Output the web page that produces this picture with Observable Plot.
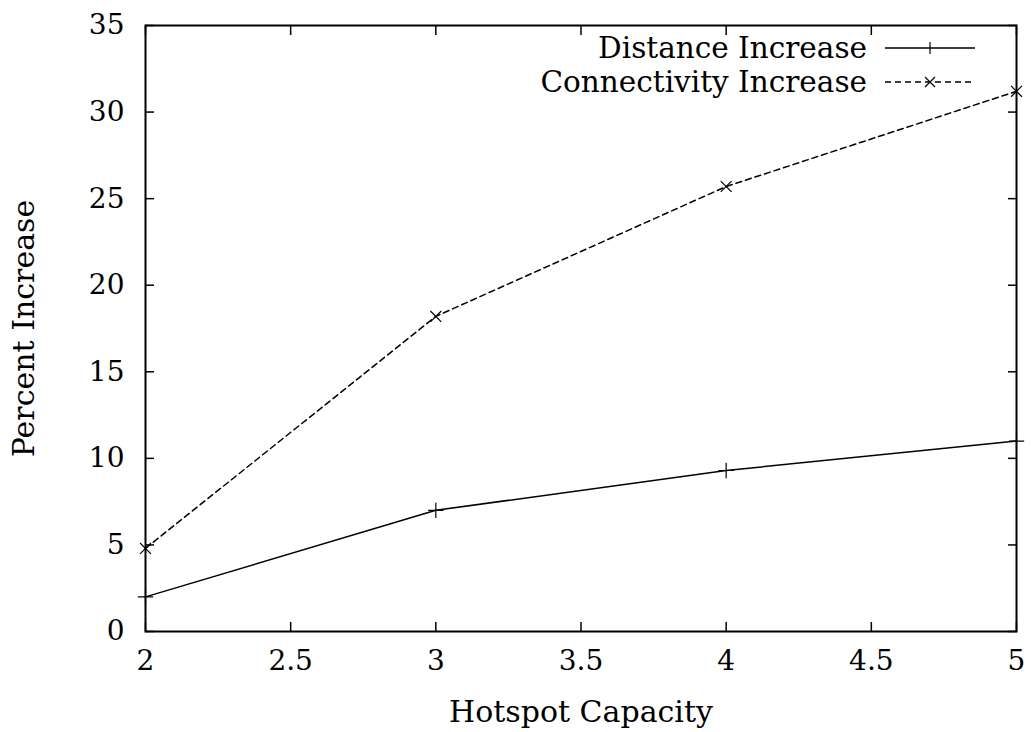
<!DOCTYPE html>
<html>
<head>
<meta charset="utf-8">
<script src="https://cdn.jsdelivr.net/npm/d3@7"></script>
<script src="https://cdn.jsdelivr.net/npm/@observablehq/plot@0.6"></script>
<style>
  html, body { margin: 0; padding: 0; background: #fff; }
  #wrap { position: relative; width: 1034px; height: 732px; font-family: "DejaVu Serif", "Liberation Serif", "Times New Roman", serif; }
  #legend { position: absolute; right: 59px; top: 31px; font-size: 29.5px; color: #000; }
  .row { display: flex; align-items: center; justify-content: flex-end; height: 34px; }
  .row span { margin-right: 18px; }
</style>
</head>
<body>
<div id="wrap"></div>
<script>
const capacity = [2, 3, 4, 5];
const distanceIncrease = [2.0, 7.0, 9.3, 11.0];
const connectivityIncrease = [4.8, 18.2, 25.7, 31.2];
const xTicks = [2, 2.5, 3, 3.5, 4, 4.5, 5];
const yTicks = [0, 5, 10, 15, 20, 25, 30, 35];
const seriesNames = ["Distance Increase", "Connectivity Increase"];

const distData = capacity.map((c, i) => ({x: c, y: distanceIncrease[i]}));
const connData = capacity.map((c, i) => ({x: c, y: connectivityIncrease[i]}));

const fontSize = 28;
const serif = '"DejaVu Serif", "Liberation Serif", "Times New Roman", serif';
const T = 9; // tick length
const noText = () => "";
const chart = Plot.plot({
  width: 1034,
  height: 732,
  marginLeft: 145,
  marginRight: 18,
  marginTop: 25,
  marginBottom: 101,
  style: {fontFamily: serif, fontSize: fontSize + "px", color: "#000", background: "#fff"},
  x: {domain: [2, 5]},
  y: {domain: [0, 35]},
  marks: [
    // tick labels
    Plot.axisX({ticks: xTicks, tickSize: 0, tickPadding: 19, fontSize, fontFamily: serif, label: null, tickFormat: d => String(d)}),
    Plot.axisY({ticks: yTicks, tickSize: 0, tickPadding: 21, fontSize, fontFamily: serif, label: null, tickFormat: d => String(d)}),
    // axis titles
    Plot.axisX({ticks: [], tickSize: 0, fontSize: 30, fontFamily: serif, label: "Hotspot Capacity", labelAnchor: "center", labelArrow: "none", labelOffset: 90}),
    Plot.axisY({ticks: [], tickSize: 0, fontSize: 30, fontFamily: serif, label: "Percent Increase", labelAnchor: "center", labelArrow: "none", labelOffset: 133}),
    // inward ticks on all four sides
    Plot.axisX({ticks: xTicks, tickSize: T, dy: -T, tickFormat: noText, strokeWidth: 1.5, label: null}),
    Plot.axisX({anchor: "top", ticks: xTicks, tickSize: T, dy: T, tickFormat: noText, strokeWidth: 1.5, label: null}),
    Plot.axisY({ticks: yTicks, tickSize: T, dx: T, tickFormat: noText, strokeWidth: 1.5, label: null}),
    Plot.axisY({anchor: "right", ticks: yTicks, tickSize: T, dx: -T, tickFormat: noText, strokeWidth: 1.5, label: null}),
    Plot.line(distData, {x: "x", y: "y", stroke: "#000", strokeWidth: 1.5}),
    Plot.dot(distData, {x: "x", y: "y", symbol: "plus", r: 5, stroke: "#000", strokeWidth: 1.2}),
    Plot.line(connData, {x: "x", y: "y", stroke: "#000", strokeWidth: 1.5, strokeDasharray: "6,4"}),
    Plot.dot(connData, {x: "x", y: "y", symbol: "times", r: 5, stroke: "#000", strokeWidth: 1.2}),
    Plot.frame({stroke: "#000", strokeWidth: 2})
  ]
});

const wrap = document.getElementById("wrap");
wrap.appendChild(chart);

const legend = document.createElement("div");
legend.id = "legend";
const styles = [
  {dash: null, sym: "M45,-6V6"},
  {dash: "6,4", sym: "M40,-5L50,5M40,5L50,-5"}
];
seriesNames.forEach((name, i) => {
  const row = document.createElement("div");
  row.className = "row";
  row.innerHTML = `<span>${name}</span><svg width="90" height="20" viewBox="0 -10 90 20" style="overflow:visible">
    <line x1="0" x2="90" y1="0" y2="0" stroke="#000" stroke-width="1.5" ${styles[i].dash ? `stroke-dasharray="${styles[i].dash}"` : ""}/>
    <path d="${styles[i].sym}" stroke="#000" stroke-width="1.2" fill="none"/></svg>`;
  legend.appendChild(row);
});
wrap.appendChild(legend);
</script>
</body>
</html>
